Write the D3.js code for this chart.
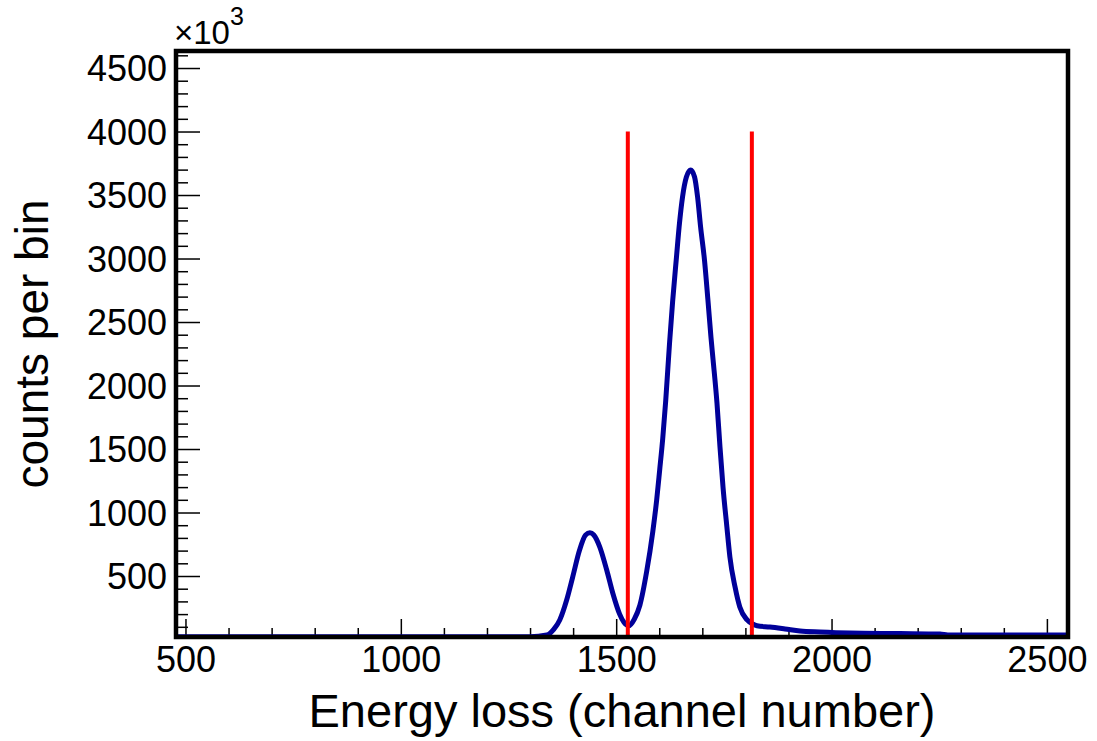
<!DOCTYPE html>
<html>
<head>
<meta charset="utf-8">
<script src="https://cdn.jsdelivr.net/npm/d3@7"></script>
<style>
  html, body { margin: 0; padding: 0; background: #fff; }
  svg { display: block; font-family: "Liberation Sans", Arial, Helvetica, sans-serif; }
</style>
</head>
<body>
<svg id="chart" width="1097" height="741"></svg>
<script>
// ---- data (counts in units of 10^3) ----
const channels = [478, 1300, 1339, 1355, 1369, 1385, 1399, 1415, 1429, 1439,
  1448, 1462, 1478, 1492, 1508, 1518, 1529, 1542, 1555, 1571,
  1585, 1594, 1601, 1608, 1615, 1624, 1631, 1640, 1647, 1654,
  1663, 1673, 1682, 1689, 1696, 1705, 1713, 1720, 1725, 1734,
  1741, 1748, 1757, 1764, 1776, 1787, 1804, 1817, 1827, 1857,
  1892, 1927, 1973, 2043, 2159, 2252, 2270, 2549];
const countsK = [22, 22, 35, 80, 154, 311, 492, 705, 823, 840,
  823, 728, 547, 366, 200, 135, 108, 160, 270, 540,
  850, 1098, 1335, 1580, 1880, 2340, 2660, 3012, 3279, 3484,
  3642, 3697, 3642, 3484, 3248, 2988, 2673, 2382, 2201, 1862,
  1516, 1201, 886, 650, 413, 256, 154, 122, 108, 98,
  83, 67, 59, 51, 47, 43, 35, 35];
const cutChannels = [1527, 1815];
const cutTopK = 4000;
const xMajorTicks = [500, 1000, 1500, 2000, 2500];
const yMajorTicks = [500, 1000, 1500, 2000, 2500, 3000, 3500, 4000, 4500];
const xTitle = "Energy loss (channel number)";
const yTitle = "counts per bin";

// ---- layout ----
const L = 176, R = 1068, T = 51, B = 637;
const svg = d3.select("#chart");

const x = d3.scaleLinear().domain([478, 2549]).range([L, R]);
const y = d3.scaleLinear().domain([19.7, 4634]).range([B, T]);

const xMinor = d3.range(500, 2549, 100).filter(v => !xMajorTicks.includes(v));
const yMinor = d3.range(100, 4634, 100).filter(v => !yMajorTicks.includes(v));

// clip
svg.append("defs").append("clipPath").attr("id", "frameClip")
  .append("rect").attr("x", L).attr("y", T).attr("width", R - L).attr("height", B - T);

// axes (ticks inward)
const tickStyle = g => {
  g.select(".domain").remove();
  g.selectAll(".tick line").attr("stroke", "#000").attr("stroke-width", 1.5);
};

svg.append("g").attr("transform", `translate(0,${B})`)
  .call(d3.axisBottom(x).tickValues(xMinor).tickSize(-9).tickFormat(""))
  .call(tickStyle);
const gx = svg.append("g").attr("transform", `translate(0,${B})`)
  .call(d3.axisBottom(x).tickValues(xMajorTicks).tickSize(-18).tickFormat(d3.format("d")))
  .call(tickStyle);
gx.selectAll(".tick text")
  .attr("y", 35).attr("dy", 0)
  .attr("font-size", 36).attr("fill", "#000")
  .attr("font-family", "Liberation Sans, Arial, sans-serif");

svg.append("g").attr("transform", `translate(${L},0)`)
  .call(d3.axisLeft(y).tickValues(yMinor).tickSize(-12).tickFormat(""))
  .call(tickStyle);
const gy = svg.append("g").attr("transform", `translate(${L},0)`)
  .call(d3.axisLeft(y).tickValues(yMajorTicks).tickSize(-24).tickFormat(d3.format("d")))
  .call(tickStyle);
gy.selectAll(".tick text")
  .attr("x", -9).attr("dy", "0.36em")
  .attr("font-size", 36).attr("fill", "#000")
  .attr("font-family", "Liberation Sans, Arial, sans-serif");

// histogram curve
const pts = channels.map((c, i) => [c, countsK[i]]);
const line = d3.line().x(d => x(d[0])).y(d => y(d[1])).curve(d3.curveMonotoneX);
svg.append("path")
  .attr("clip-path", "url(#frameClip)")
  .attr("d", line(pts))
  .attr("fill", "none")
  .attr("stroke", "#000099")
  .attr("stroke-width", 5)
  .attr("stroke-linejoin", "round");

// cut lines
svg.append("g").selectAll("line").data(cutChannels).join("line")
  .attr("x1", d => x(d)).attr("x2", d => x(d))
  .attr("y1", y(cutTopK)).attr("y2", B)
  .attr("stroke", "#ff0000").attr("stroke-width", 4);

// frame
svg.append("rect")
  .attr("x", L).attr("y", T).attr("width", R - L).attr("height", B - T)
  .attr("fill", "none").attr("stroke", "#000").attr("stroke-width", 4.5);

// multiplier label
const mult = svg.append("text").attr("x", 174).attr("y", 44).attr("fill", "#000");
mult.append("tspan").attr("font-size", 33).text("×10");
mult.append("tspan").attr("font-size", 25).attr("dy", -19).text("3");

// axis titles
svg.append("text")
  .attr("x", (L + R) / 2).attr("y", 727)
  .attr("text-anchor", "middle").attr("font-size", 47).attr("fill", "#000")
  .text(xTitle);
svg.append("text")
  .attr("transform", `translate(48,${(T + B) / 2}) rotate(-90)`)
  .attr("text-anchor", "middle").attr("font-size", 46).attr("fill", "#000")
  .text(yTitle);
</script>
</body>
</html>
